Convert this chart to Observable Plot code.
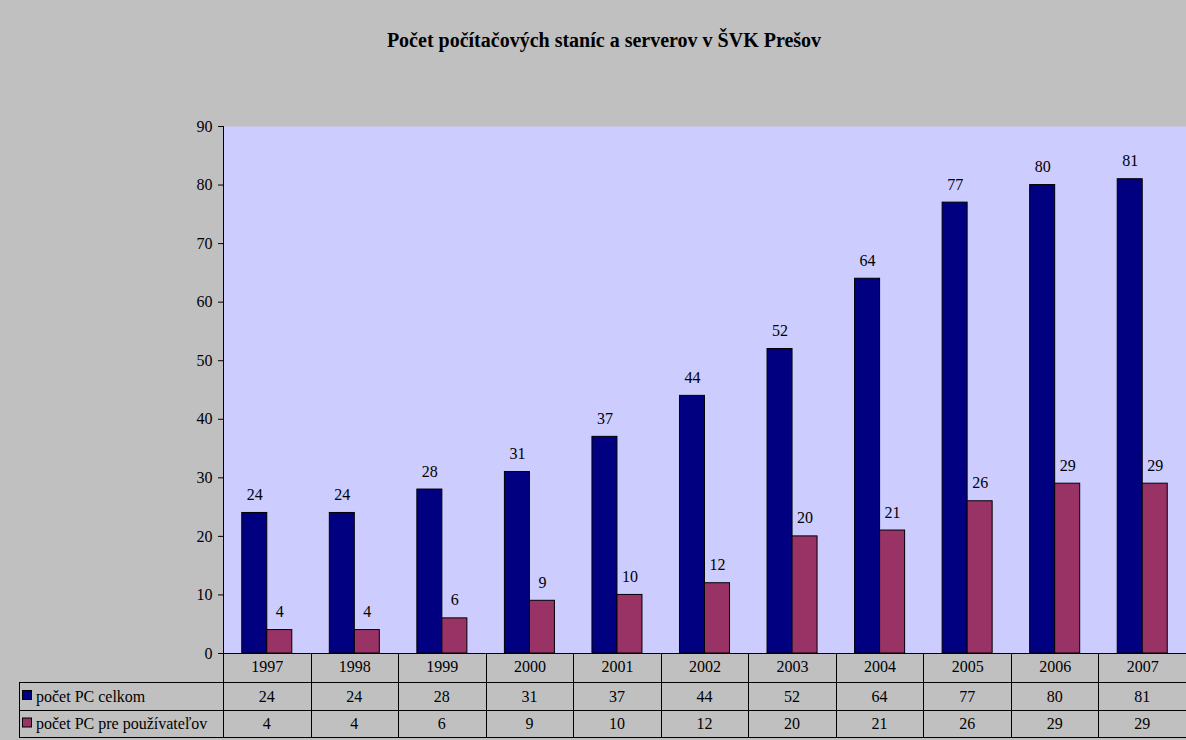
<!DOCTYPE html>
<html><head><meta charset="utf-8">
<script src="https://cdn.jsdelivr.net/npm/d3@7"></script>
<script src="https://cdn.jsdelivr.net/npm/@observablehq/plot@0.6"></script>
<style>
html,body{margin:0;padding:0;background:#c0c0c0;overflow:hidden;}
#wrap{width:1186px;height:740px;background:#c0c0c0;position:relative;overflow:hidden;font-family:"Liberation Serif","Times New Roman",serif;}
#title{height:80px;line-height:80px;text-align:center;font-weight:bold;font-size:20px;color:#000;padding-left:22px;box-sizing:border-box;}
#chart svg{display:block;}
</style></head><body>
<div id="wrap"><div id="title">Počet počítačových staníc a serverov v ŠVK Prešov</div><div id="chart"></div></div>
<script>
const years = ["1997","1998","1999","2000","2001","2002","2003","2004","2005","2006","2007"];
const totalPC = [24,24,28,31,37,44,52,64,77,80,81];
const userPC = [4,4,6,9,10,12,20,21,26,29,29];
const seriesNames = ["počet PC celkom","počet PC pre používateľov"];
const seriesValues = [totalPC, userPC];
const colors = ["#000080","#993366"];
const yTicks = [0,10,20,30,40,50,60,70,80,90];

const data = years.flatMap((y,i)=>seriesNames.map((s,j)=>({year:y, series:s, value:seriesValues[j][i]})));

const FS = 16;
const plot = Plot.plot({
  width:1186, height:660, marginTop:46, marginBottom:87, marginLeft:223, marginRight:0,
  style:{background:"transparent", fontFamily:"'Liberation Serif', 'Times New Roman', serif", fontSize:FS+"px", color:"#000", overflow:"visible"},
  fx:{domain:years, padding:0, round:false, label:null},
  x:{domain:seriesNames, paddingInner:0, paddingOuter:0.75, round:false, axis:null},
  y:{domain:[0,90], label:null},
  color:{domain:seriesNames, range:colors},
  marks:[
    Plot.frame({fill:"#ccccff", stroke:"none", insetLeft:-0.6, insetRight:-0.6}),
    Plot.barY(data,{fx:"year", x:"series", y:"value", fill:"series", stroke:"#000", strokeWidth:1}),
    Plot.text(data,{fx:"year", x:"series", y:"value", text:"value", dy:-13, lineAnchor:"bottom", fill:"#000", fontSize:FS}),
    Plot.axisY({ticks:yTicks, tickSize:5, tickPadding:6, label:null, stroke:"#000", fill:"#000", fontSize:FS}),
    Plot.axisFx({anchor:"bottom", tickSize:0, tickPadding:7, label:null, fill:"#000", fontSize:FS}),
    Plot.ruleY([0], {stroke:"#000"})
  ]
});
document.getElementById("chart").appendChild(plot);

// data table beneath the chart, aligned with the fx scale
const fx = plot.scale("fx");
const yS = plot.scale("y");
const svg = d3.select(plot);
const g = svg.append("g").attr("font-family","'Liberation Serif', 'Times New Roman', serif").attr("font-size",FS).attr("text-anchor","start");
const plotLeft = Math.round(fx.apply(years[0]));
const plotRight = 1186;
const top0 = yS.apply(0);
const rows = [top0, top0+29, top0+57, top0+84];
const tableLeft = 19;
[1,2,3].forEach(k=>{
  g.append("line").attr("x1",tableLeft).attr("x2",plotRight).attr("y1",rows[k]+0.5).attr("y2",rows[k]+0.5).attr("stroke","#000");
});
g.append("line").attr("x1",plotLeft+0.5).attr("x2",plotLeft+0.5).attr("y1",yS.apply(90)).attr("y2",rows[3]).attr("stroke","#000");
g.append("line").attr("x1",tableLeft+0.5).attr("x2",tableLeft+0.5).attr("y1",rows[1]).attr("y2",rows[3]).attr("stroke","#000");
years.slice(1).forEach(y=>{
  const x = Math.round(fx.apply(y))+0.5;
  g.append("line").attr("x1",x).attr("x2",x).attr("y1",top0).attr("y2",rows[3]).attr("stroke","#000");
});
seriesNames.forEach((s,j)=>{
  const yc = (rows[j+1]+rows[j+2])/2;
  g.append("rect").attr("x",tableLeft+3.5).attr("y",yc-5.5).attr("width",9).attr("height",9).attr("fill",colors[j]).attr("stroke","#000");
  g.append("text").attr("x",tableLeft+17).attr("y",yc).attr("dy","0.35em").attr("text-anchor","start").attr("fill","#000").text(s);
  years.forEach((y,i)=>{
    g.append("text").attr("x",fx.apply(y)+fx.bandwidth/2).attr("y",yc).attr("dy","0.35em").attr("text-anchor","middle").attr("fill","#000").text(seriesValues[j][i]);
  });
});
</script>
</body></html>
